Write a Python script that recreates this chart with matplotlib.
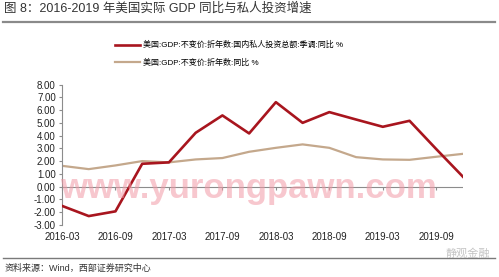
import matplotlib
matplotlib.use('Agg')
import matplotlib.pyplot as plt
from matplotlib.lines import Line2D

plt.rcParams['font.family'] = ['Liberation Sans', 'Noto Sans CJK SC', 'DejaVu Sans']
plt.rcParams['axes.unicode_minus'] = False

quarters = ['2016-03', '2016-06', '2016-09', '2016-12',
            '2017-03', '2017-06', '2017-09', '2017-12',
            '2018-03', '2018-06', '2018-09', '2018-12',
            '2019-03', '2019-06', '2019-09', '2019-12']
invest = [-1.5, -2.3, -1.93, 1.8, 1.91, 4.23, 5.59, 4.18,
          6.63, 5.01, 5.85, 5.27, 4.70, 5.17, 2.95, 0.78]
gdp = [1.64, 1.38, 1.67, 2.01, 1.91, 2.14, 2.25, 2.74,
       3.05, 3.32, 3.05, 2.32, 2.14, 2.11, 2.35, 2.58]
name_invest = '美国:GDP:不变价:折年数:国内私人投资总额:季调:同比 %'
name_gdp = '美国:GDP:不变价:折年数:同比 %'

red = '#A8151E'
tan = '#C4A88C'
grey = '#8C8C8C'

fig = plt.figure(figsize=(4.99, 2.77), dpi=100)
ax = fig.add_axes([62/499, 1-225/277, 401/499, 140.3/277])

x = list(range(len(quarters)))
l1, = ax.plot(x, invest, color=red, lw=1.9, label=name_invest, zorder=3)
l2, = ax.plot(x, gdp, color=tan, lw=1.6, label=name_gdp, zorder=2)

ax.set_xlim(0, len(quarters) - 1)
ax.set_ylim(-3, 8)
ax.set_yticks(range(-3, 9))
ax.set_yticklabels(['%.2f' % v for v in range(-3, 9)])
ax.set_xticks(x[::2])
ax.set_xticklabels(quarters[::2])

for s in ['top', 'right', 'bottom']:
    ax.spines[s].set_visible(False)
ax.spines['left'].set_color(grey)
ax.spines['left'].set_linewidth(0.8)
ax.tick_params(axis='y', direction='out', length=2.5, width=0.8, color=grey,
               labelsize=7, pad=2, labelcolor='#222222')
ax.tick_params(axis='x', length=0, labelsize=7, pad=5, labelcolor='#222222')

ax.axhline(0, color=grey, lw=0.8, zorder=1)
zero = ax.secondary_xaxis(3/11)
zero.spines['bottom'].set_visible(False)
zero.set_xticks(x[::2])
zero.tick_params(axis='x', direction='out', length=2.5, width=0.8, color=grey,
                 labelbottom=False)

fig.legend(handles=[l1, l2], loc='upper left', bbox_to_anchor=(112/499, 1-38/277),
           frameon=False, fontsize=5.8, handlelength=3.1, handletextpad=0.3,
           labelspacing=1.15, borderaxespad=0)

# watermarks
fig.text(60/499, 1-198/277, 'www.yurongpawn.com', fontsize=25, fontweight='bold',
         color='#F29AA6', alpha=0.55, ha='left', va='baseline', zorder=5)
fig.text(490/499, 1-253/277, '静观金融', fontsize=8, color='#C4C4C4',
         ha='right', va='center', family=['Noto Sans CJK SC'])

fig.text(4/499, 1-9/277, '图 8：2016-2019 年美国实际 GDP 同比与私人投资增速',
         fontsize=9, color='#333333', ha='left', va='center')
fig.add_artist(Line2D([3/499, 495/499], [1-22/277]*2, color='#8A8A8A', lw=1.6))
fig.add_artist(Line2D([3/499, 495/499], [1-258/277]*2, color='#7A7A7A', lw=1.0))
fig.text(5/499, 1-268/277, '资料来源：Wind，西部证券研究中心',
         fontsize=6.5, color='#333333', ha='left', va='center')

fig.savefig('out.png', dpi=100)
